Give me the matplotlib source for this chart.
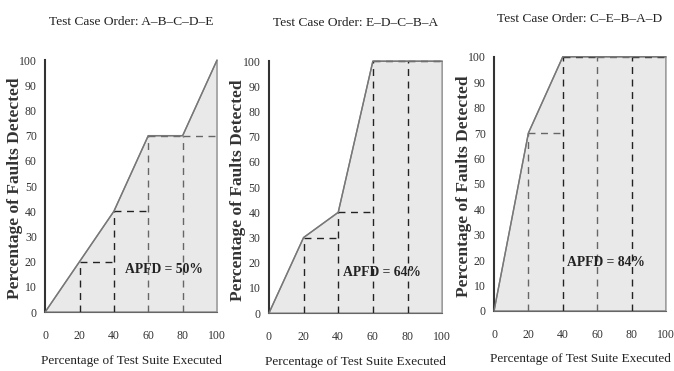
import matplotlib.pyplot as plt

# percentage of test suite executed (x) and faults detected (y) per ordering
x_pct = [0, 20, 40, 60, 80, 100]
orders = ["A\u2013B\u2013C\u2013D\u2013E", "E\u2013D\u2013C\u2013B\u2013A", "C\u2013E\u2013B\u2013A\u2013D"]
faults_abcde = [0, 20, 40, 70, 70, 100]
faults_edcba = [0, 30, 40, 100, 100, 100]
faults_cebad = [0, 70, 100, 100, 100, 100]
apfd = [50, 64, 84]
xticks = [0, 20, 40, 60, 80, 100]
yticks = [0, 10, 20, 30, 40, 50, 60, 70, 80, 90, 100]

series = [faults_abcde, faults_edcba, faults_cebad]
text_pos = [(69, 17), (65, 16), (65, 19)]
boxes = [
    [0.067, 0.159, 0.255, 0.679],
    [0.399, 0.156, 0.257, 0.679],
    [0.733, 0.162, 0.255, 0.685],
]

plt.rcParams['font.family'] = ['Liberation Serif', 'DejaVu Serif']

fig = plt.figure(figsize=(6.74, 3.71), dpi=100)

for i, ys in enumerate(series):
    ax = fig.add_axes(boxes[i])
    # shaded area under the curve, closed at x=100
    px = x_pct + [100, 0]
    py = ys + [0, 0]
    ax.fill(px, py, facecolor='#e9e9e9', edgecolor='#8a8a8a', lw=1.0, clip_on=False, zorder=1)
    ax.plot(x_pct, ys, color='#777777', lw=1.0, clip_on=False, zorder=3)

    # dashed rectangles for each test case
    for k in range(1, 5):
        h = ys[k]
        c = '#222222' if h < 60 or (i == 2 and k % 2 == 0) else '#666666'
        if i == 1:
            c = '#222222'
        ax.plot([x_pct[k], x_pct[k]], [0, h], ls=(0, (5, 4)), color=c, lw=1.0, clip_on=False, zorder=2)
        ax.plot([x_pct[k], x_pct[k + 1]], [h, h], ls=(0, (5, 4)), color=c, lw=1.0, clip_on=False, zorder=2)

    ax.text(text_pos[i][0], text_pos[i][1], "APFD = %d%%" % apfd[i], ha='center', va='center',
            fontsize=9.8, fontweight='bold', color='#222222')

    ax.set_xlim(0, 100)
    ax.set_ylim(0, 100)
    ax.set_xticks(xticks)
    ax.set_yticks(yticks)
    ax.tick_params(length=0, labelsize=8.5, colors='#333333')
    ax.tick_params(axis='x', pad=13)
    ax.tick_params(axis='y', pad=6)
    for s in ['top', 'right']:
        ax.spines[s].set_visible(False)
    ax.spines['left'].set_color('#333333')
    ax.spines['left'].set_linewidth(1.5)
    ax.spines['bottom'].set_color('#666666')
    ax.set_facecolor('none')

    ax.set_title("Test Case Order: " + orders[i], fontsize=9.6, pad=25, color='#222222')
    ax.set_xlabel("Percentage of Test Suite Executed", fontsize=9.5, labelpad=9, color='#222222')
    ax.set_ylabel("Percentage of Faults Detected", fontsize=12.5, fontweight='bold', color='#333333')
    ax.yaxis.set_label_coords(-0.13, 0.49)

fig.savefig("out.png", dpi=100)
